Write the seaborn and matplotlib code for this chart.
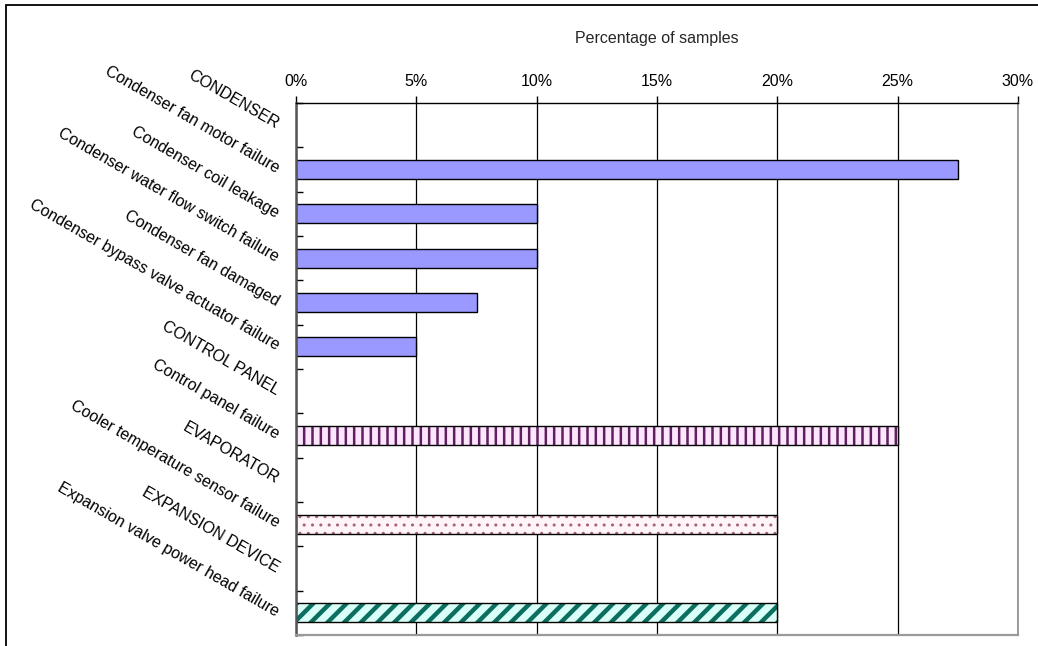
import numpy as np
import matplotlib
matplotlib.use("Agg")
import matplotlib.pyplot as plt
from matplotlib.patches import Rectangle
from matplotlib.ticker import FuncFormatter
import seaborn as sns

# Failure causes grouped by component; group headers carry no value
categories = [
    "CONDENSER",
    "Condenser fan motor failure",
    "Condenser coil leakage",
    "Condenser water flow switch failure",
    "Condenser fan damaged",
    "Condenser bypass valve actuator failure",
    "CONTROL PANEL",
    "Control panel failure",
    "EVAPORATOR",
    "Cooler temperature sensor failure",
    "EXPANSION DEVICE",
    "Expansion valve power head failure",
]
percent = [0, 27.5, 10, 10, 7.5, 5, 0, 25, 0, 20, 0, 20]
component = (["CONDENSER"] * 6 + ["CONTROL PANEL"] * 2
             + ["EVAPORATOR"] * 2 + ["EXPANSION DEVICE"] * 2)
x_ticks = [0, 5, 10, 15, 20, 25, 30]

# fill, hatch, hatch colour, hatch width for each component
styles = {
    "CONDENSER": ("#9999ff", None, None, 0),
    "CONTROL PANEL": ("#fde6fd", "||", "#5e1f5e", 1.8),
    "EVAPORATOR": ("#fff4f8", "..", "#a8607f", 1.0),
    "EXPANSION DEVICE": ("#d9fff8", "//", "#0b6e5e", 3.2),
}

sns.set_theme(style="white")
plt.rcParams["font.family"] = ["Liberation Sans", "DejaVu Sans"]
plt.rcParams["font.size"] = 11.5

fig = plt.figure(figsize=(10.38, 6.46), dpi=100)
ax = fig.add_axes([0.2852, 0.0170, 0.9807 - 0.2852, 0.8406 - 0.0170])

sns.barplot(x=percent, y=categories, orient="h", color="#9999ff",
            width=0.43, edgecolor="black", linewidth=1.0, ax=ax,
            saturation=1)

for p in list(ax.patches):
    if p.get_width() == 0:
        p.set_visible(False)
        continue
    idx = int(round(p.get_y() + p.get_height() / 2))
    face, hatch, hcol, hlw = styles[component[idx]]
    p.set_facecolor(face)
    if hatch:
        p.set_hatch(hatch)
        p.set_edgecolor(hcol)
        p.set_linewidth(0)
        if hasattr(p, "set_hatch_linewidth"):
            p.set_hatch_linewidth(hlw)
        outline = Rectangle(p.get_xy(), p.get_width(), p.get_height(),
                            fill=False, edgecolor="black", linewidth=1.0,
                            zorder=p.get_zorder() + 0.1)
        ax.add_patch(outline)

# x axis on top, in percent
ax.set_xlim(0, 30)
ax.set_xticks(x_ticks)
ax.xaxis.set_major_formatter(FuncFormatter(lambda v, _: f"{v:g}%"))
ax.xaxis.tick_top()
ax.xaxis.set_label_position("top")
ax.set_xlabel("Percentage of samples", fontsize=11.5, labelpad=22.5)
ax.tick_params(axis="x", which="major", top=True, bottom=False,
               direction="out", length=5, width=1, color="black",
               pad=5, labelsize=11.5, labelcolor="black")

# category labels slanted, small ticks between categories
ax.set_ylabel("")
n = len(categories)
ax.set_yticks(np.arange(n))
ax.set_yticklabels(categories)
ax.set_yticks(np.arange(-0.5, n, 1), minor=True)
ax.tick_params(axis="y", which="major", length=0, pad=13,
               labelsize=11.5, labelcolor="black")
ax.tick_params(axis="y", which="minor", left=True, direction="in",
               length=5, width=1, color="black")
for lab in ax.get_yticklabels():
    lab.set_rotation(-30)
    lab.set_rotation_mode("anchor")
    lab.set_horizontalalignment("right")
    lab.set_verticalalignment("center")

ax.grid(axis="x", color="black", linewidth=0.9)
ax.grid(axis="y", visible=False)
ax.set_axisbelow(True)

ax.spines["top"].set_color("black")
ax.spines["top"].set_linewidth(1.0)
ax.spines["left"].set_color("#555555")
ax.spines["left"].set_linewidth(1.8)
ax.spines["right"].set_color("#8c8c8c")
ax.spines["right"].set_linewidth(1.2)
ax.spines["bottom"].set_color("#9a9a9a")
ax.spines["bottom"].set_linewidth(1.6)

# chart frame
frame = Rectangle((0.0058, -0.5), 2.0, 0.9915 + 0.5, transform=fig.transFigure,
                  fill=False, edgecolor="black", linewidth=1.3)
fig.patches.append(frame)

fig.savefig("out.png", dpi=100)
